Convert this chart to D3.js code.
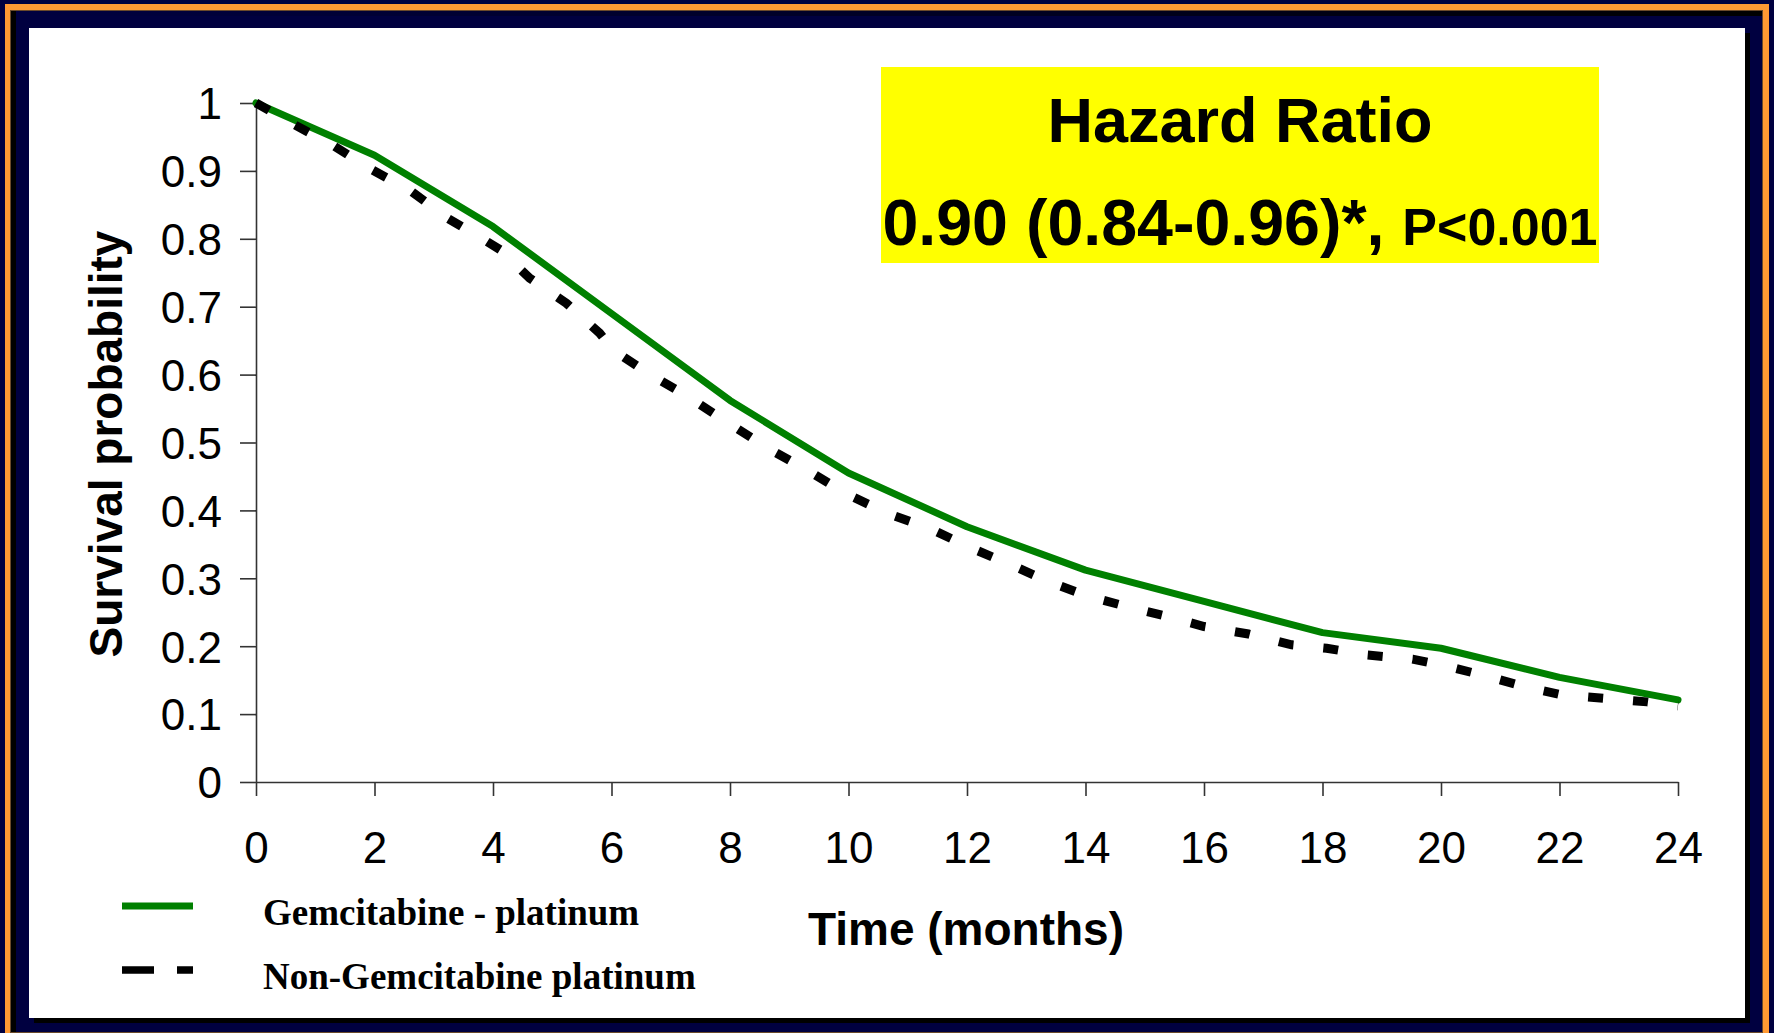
<!DOCTYPE html>
<html>
<head>
<meta charset="utf-8">
<script src="https://cdn.jsdelivr.net/npm/d3@7"></script>
<style>
  html, body { margin: 0; padding: 0; background: #000040; }
  svg { display: block; font-family: "Liberation Sans", Arial, sans-serif; }
  .serif { font-family: "Liberation Serif", "Times New Roman", serif; }
</style>
</head>
<body>
<svg id="chart" width="1774" height="1033"></svg>
<script>
// Overall survival, months since randomisation
const xTicks = [0, 2, 4, 6, 8, 10, 12, 14, 16, 18, 20, 22, 24];
const yTicks = [0, 0.1, 0.2, 0.3, 0.4, 0.5, 0.6, 0.7, 0.8, 0.9, 1];
const yTickLabels = ["0", "0.1", "0.2", "0.3", "0.4", "0.5", "0.6", "0.7", "0.8", "0.9", "1"];

// Gemcitabine - platinum
const gemTime = [0, 2, 4, 6, 8, 10, 12, 14, 16, 18, 20, 22, 24];
const gemSurv = [1.0, 0.923, 0.818, 0.69, 0.562, 0.455, 0.376, 0.312, 0.266, 0.22, 0.197, 0.154, 0.121];

// Non-Gemcitabine platinum
const nonTime = [0, 0.65, 1.33, 1.95, 2.62, 3.24, 3.86, 4.12, 4.62, 5.24, 5.8, 6.03, 6.65, 7.21,
  7.95, 8.65, 9.27, 9.97, 10.68, 11.38, 12.06, 12.71, 13.41, 14.03, 14.76, 15.41, 16.0, 16.75,
  17.48, 18.07, 18.76, 19.52, 20.08, 20.81, 21.47, 22.06, 22.78, 23.48, 24];
const nonSurv = [1.0, 0.968, 0.936, 0.902, 0.87, 0.83, 0.798, 0.784, 0.742, 0.705, 0.661, 0.636, 0.6, 0.572,
  0.53, 0.491, 0.461, 0.424, 0.395, 0.373, 0.345, 0.321, 0.294, 0.274, 0.257, 0.243, 0.229, 0.218,
  0.202, 0.197, 0.187, 0.181, 0.171, 0.155, 0.139, 0.128, 0.123, 0.118, 0.112];

const legendLabels = ["Gemcitabine - platinum", "Non-Gemcitabine platinum"];
const hrTitle = "Hazard Ratio";
const hrValue = "0.90 (0.84-0.96)*, ";
const hrP = "P<0.001";

const svg = d3.select("#chart");

// ---- slide frame ----
const defs = svg.append("defs");
const grad = defs.append("linearGradient").attr("id", "topShade")
  .attr("x1", "0").attr("x2", "1").attr("y1", "0").attr("y2", "0");
grad.append("stop").attr("offset", "0").attr("stop-color", "#000040");
grad.append("stop").attr("offset", "0.6").attr("stop-color", "#000020");
grad.append("stop").attr("offset", "1").attr("stop-color", "#000000");

svg.append("rect").attr("width", 1774).attr("height", 1033).attr("fill", "#000040");
svg.append("rect").attr("x", 5).attr("y", 4).attr("width", 1764).attr("height", 1035).attr("fill", "#FF9933");
svg.append("rect").attr("x", 10).attr("y", 10).attr("width", 1753).attr("height", 1023).attr("fill", "#6b4a2a");
svg.append("rect").attr("x", 11).attr("y", 11).attr("width", 1751).attr("height", 1021).attr("fill", "#000040");
svg.append("rect").attr("x", 11).attr("y", 11).attr("width", 1751).attr("height", 5).attr("fill", "url(#topShade)");
svg.append("rect").attr("x", 11).attr("y", 11).attr("width", 5).attr("height", 1021).attr("fill", "#000000");
// shadow under the white panel
svg.append("rect").attr("x", 34).attr("y", 33).attr("width", 1716).attr("height", 990).attr("fill", "#000000");
svg.append("rect").attr("x", 29).attr("y", 28).attr("width", 1716).attr("height", 990).attr("fill", "#FFFFFF");

// ---- scales ----
const x = d3.scaleLinear().domain([0, 24]).range([256, 1678]);
const y = d3.scaleLinear().domain([0, 1]).range([782, 103]);

// ---- axes ----
const xAxis = d3.axisBottom(x).tickValues(xTicks).tickFormat(d3.format("d"))
  .tickSize(14).tickSizeOuter(0).tickPadding(36);
const yAxis = d3.axisLeft(y).tickValues(yTicks).tickFormat((d, i) => yTickLabels[i])
  .tickSize(16).tickSizeOuter(0).tickPadding(18);

const gx = svg.append("g").attr("transform", `translate(0,${y(0)})`).call(xAxis);
const gy = svg.append("g").attr("transform", `translate(${x(0)},0)`).call(yAxis);

[gx, gy].forEach(g => {
  g.attr("font-family", null).attr("font-size", null);
  g.select(".domain").attr("stroke", "#333").attr("stroke-width", 1.6);
  g.selectAll(".tick line").attr("stroke", "#333").attr("stroke-width", 1.6);
  g.selectAll(".tick text").attr("fill", "#000").attr("font-size", 44);
});
gy.selectAll(".tick text").attr("dy", "0.36em");

// ---- axis titles ----
svg.append("text")
  .attr("transform", `translate(122,444) rotate(-90)`)
  .attr("text-anchor", "middle")
  .attr("font-size", 46).attr("font-weight", "bold").attr("fill", "#000")
  .text("Survival probability");

svg.append("text")
  .attr("x", 966).attr("y", 945)
  .attr("text-anchor", "middle")
  .attr("font-size", 46).attr("font-weight", "bold").attr("fill", "#000")
  .text("Time (months)");

// ---- survival curves ----
const line = d3.line().x(d => x(d[0])).y(d => y(d[1]));
const gemData = gemTime.map((t, i) => [t, gemSurv[i]]);
const nonData = nonTime.map((t, i) => [t, nonSurv[i]]);

svg.append("path").datum(gemData)
  .attr("d", line)
  .attr("fill", "none").attr("stroke", "#008000").attr("stroke-width", 7)
  .attr("stroke-linecap", "round").attr("stroke-linejoin", "round");

svg.append("path").datum(nonData)
  .attr("d", line)
  .attr("fill", "none").attr("stroke", "#000").attr("stroke-width", 9)
  .attr("stroke-dasharray", "15 30").attr("stroke-linecap", "butt");

// ---- hazard ratio box ----
svg.append("rect").attr("x", 881).attr("y", 67).attr("width", 718).attr("height", 196).attr("fill", "#FFFF00");
svg.append("text")
  .attr("x", 1240).attr("y", 142).attr("text-anchor", "middle")
  .attr("font-size", 63).attr("font-weight", "bold").attr("fill", "#000")
  .text(hrTitle);
const hr = svg.append("text")
  .attr("x", 1240).attr("y", 245).attr("text-anchor", "middle")
  .attr("font-weight", "bold").attr("fill", "#000");
hr.append("tspan").attr("font-size", 64.5).text(hrValue);
hr.append("tspan").attr("font-size", 52).text(hrP);

// ---- legend ----
const legendY = [906, 970];
svg.append("line")
  .attr("x1", 122).attr("x2", 193).attr("y1", legendY[0]).attr("y2", legendY[0])
  .attr("stroke", "#008000").attr("stroke-width", 7);
svg.append("line")
  .attr("x1", 122).attr("x2", 193).attr("y1", legendY[1]).attr("y2", legendY[1])
  .attr("stroke", "#000").attr("stroke-width", 7.5).attr("stroke-dasharray", "32 23");

legendLabels.forEach((label, i) => {
  svg.append("text")
    .attr("class", "serif")
    .attr("x", 263).attr("y", legendY[i] + 19)
    .attr("font-size", 37).attr("font-weight", "bold").attr("fill", "#000")
    .text(label);
});
</script>
</body>
</html>
